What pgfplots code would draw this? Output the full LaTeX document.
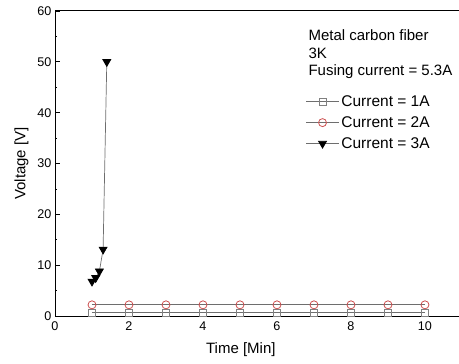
\documentclass[border=0pt]{standalone}
\usepackage{fontspec}
\setmainfont{Liberation Sans}
\usepackage{pgfplots}
\pgfplotsset{compat=1.18}
\definecolor{circred}{RGB}{205,80,80}
\definecolor{linegray}{RGB}{110,110,110}
\begin{document}
\begin{tikzpicture}
\begin{axis}[
  name=ax,
  scale only axis,
  width=404pt, height=305pt,
  xmin=0, xmax=10.92, ymin=0, ymax=60,
  axis y line=left, axis x line=box,
  axis line style={line width=1pt, -},
  xtick={0,2,4,6,8,10},
  ytick={0,10,20,30,40,50,60},
  minor ytick={5,15,25,35,45,55},
  tick align=inside,
  major tick length=5pt, minor tick length=2.5pt,
  xtick style={draw=none},
  ytick style={line width=0.8pt, black},
  tick label style={font=\fontsize{12.6}{14}\selectfont},
  xticklabel style={yshift=-2pt},
  /pgf/number format/assume math mode=true,
  xlabel={Time [Min]}, ylabel={Voltage [V]},
  label style={font=\fontsize{15}{18}\selectfont},
  xlabel style={at={(axis description cs:0.46,0)}, anchor=north, yshift=-23pt},
  ylabel style={yshift=2pt},
  legend style={draw=none, fill=none, at={(rel axis cs:0.62,0.730)}, anchor=north west,
    font=\fontsize{15.5}{17}\selectfont, row sep=4.6pt, inner sep=0pt,
    /tikz/every even column/.append style={column sep=0pt}},
  legend cell align=left,
  legend image code/.code={
    \draw[linegray, line width=0.7pt] (0pt,0pt) -- (33pt,0pt);
    \draw[#1, solid] plot coordinates {(16.5pt,0pt)};
  },
]
\addplot[linegray, line width=0.7pt, mark=square, mark size=3.5pt,
  mark options={draw=gray, fill=white, line width=0.8pt}]
  coordinates {(1,0.65)(2,0.65)(3,0.65)(4,0.65)(5,0.65)(6,0.65)(7,0.65)(8,0.65)(9,0.65)(10,0.65)};
\addlegendentry{Current = 1A}
\addplot[linegray, line width=0.7pt, mark=o, mark size=4pt,
  mark options={draw=circred, fill=white, line width=0.8pt}]
  coordinates {(1,2.2)(2,2.2)(3,2.2)(4,2.2)(5,2.2)(6,2.2)(7,2.2)(8,2.2)(9,2.2)(10,2.2)};
\addlegendentry{Current = 2A}
\addplot[linegray, line width=0.7pt, mark=triangle*, mark size=4.6pt,
  mark options={black, fill=black, rotate=180}]
  coordinates {(1.0,6.8)(1.1,7.5)(1.2,8.8)(1.3,13.1)(1.4,50)};
\addlegendentry{Current = 3A}
\node[anchor=north west, align=left, inner sep=0pt,
  font=\fontsize{15}{17.5}\selectfont] at (rel axis cs:0.627,0.938)
  {Metal carbon fiber\\3K\\Fusing current = 5.3A};
\end{axis}
\pgfresetboundingbox
\path (ax.south west) ++(-55pt,-47pt) coordinate (bl);
\path (ax.north east) ++(0pt,11pt) coordinate (tr);
\useasboundingbox (bl) rectangle (tr);
\end{tikzpicture}
\end{document}
